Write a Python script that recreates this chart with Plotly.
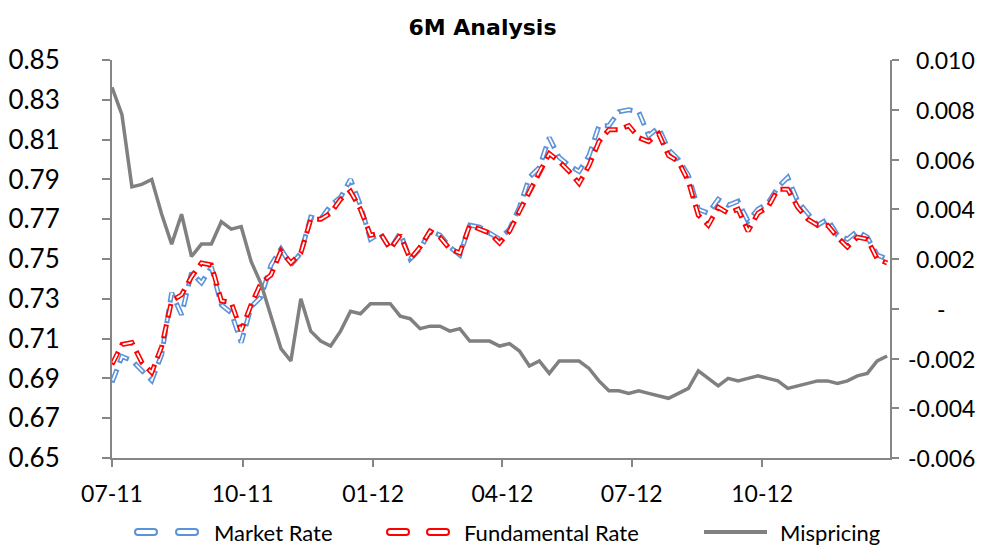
import pandas as pd
import plotly.graph_objects as go

dates = pd.date_range("2011-07-01", periods=79, freq="7D")

market_rate = [
    0.688, 0.701, 0.699, 0.694, 0.689, 0.702, 0.733, 0.722, 0.743, 0.738,
    0.746, 0.727, 0.723, 0.708, 0.726, 0.731, 0.747, 0.755, 0.747, 0.753,
    0.771, 0.770, 0.777, 0.781, 0.790, 0.777, 0.760, 0.763, 0.755, 0.763,
    0.750, 0.755, 0.764, 0.762, 0.756, 0.752, 0.767, 0.766, 0.763, 0.760,
    0.765, 0.776, 0.791, 0.796, 0.811, 0.801, 0.797, 0.794, 0.802, 0.817,
    0.817, 0.824, 0.825, 0.824, 0.812, 0.816, 0.805, 0.800, 0.792, 0.775,
    0.773, 0.780, 0.777, 0.779, 0.769, 0.775, 0.778, 0.786, 0.791, 0.779,
    0.773, 0.767, 0.770, 0.762, 0.760, 0.764, 0.761, 0.752, 0.750,
]

fundamental_rate = [
    0.697, 0.707, 0.708, 0.698, 0.693, 0.706, 0.729, 0.732, 0.741, 0.748,
    0.747, 0.729, 0.728, 0.714, 0.727, 0.738, 0.742, 0.754, 0.748, 0.753,
    0.770, 0.770, 0.773, 0.780, 0.784, 0.775, 0.762, 0.763, 0.755, 0.762,
    0.750, 0.756, 0.764, 0.761, 0.755, 0.753, 0.767, 0.765, 0.763, 0.758,
    0.764, 0.774, 0.784, 0.794, 0.803, 0.799, 0.794, 0.788, 0.797, 0.809,
    0.815, 0.815, 0.817, 0.811, 0.809, 0.813, 0.802, 0.799, 0.789, 0.772,
    0.767, 0.776, 0.773, 0.775, 0.764, 0.773, 0.776, 0.785, 0.785, 0.776,
    0.770, 0.767, 0.767, 0.761, 0.756, 0.761, 0.760, 0.750, 0.748,
]

mispricing = [
    0.0089, 0.0078, 0.0049, 0.0050, 0.0052, 0.0038, 0.0026, 0.0038, 0.0021, 0.0026,
    0.0026, 0.0035, 0.0032, 0.0033, 0.0019, 0.0010, -0.0003, -0.0016, -0.0021, 0.0004,
    -0.0009, -0.0013, -0.0015, -0.0009, -0.0001, -0.0002, 0.0002, 0.0002, 0.0002, -0.0003,
    -0.0004, -0.0008, -0.0007, -0.0007, -0.0009, -0.0008, -0.0013, -0.0013, -0.0013, -0.0015,
    -0.0014, -0.0017, -0.0023, -0.0021, -0.0026, -0.0021, -0.0021, -0.0021, -0.0024, -0.0029,
    -0.0033, -0.0033, -0.0034, -0.0033, -0.0034, -0.0035, -0.0036, -0.0034, -0.0032, -0.0025,
    -0.0028, -0.0031, -0.0028, -0.0029, -0.0028, -0.0027, -0.0028, -0.0029, -0.0032, -0.0031,
    -0.0030, -0.0029, -0.0029, -0.0030, -0.0029, -0.0027, -0.0026, -0.0021, -0.0019,
]

x_ticks = ["2011-07-01", "2011-10-01", "2012-01-01", "2012-04-01", "2012-07-01", "2012-10-01"]
right_ticks = [0.010, 0.008, 0.006, 0.004, 0.002, 0.0, -0.002, -0.004, -0.006]
right_labels = ["0.010", "0.008", "0.006", "0.004", "0.002", "-" + "\u00a0" * 5,
                "-0.002", "-0.004", "-0.006"]

series_names = ["Market Rate", "Fundamental Rate", "Mispricing"]
BLUE, RED, GREY = "#5b93d8", "#ff0000", "#808080"

FONT = "Lato"
AXIS_GREY = "#868686"
OUTER_DASH = "14px,7px"
INNER_DASH = "0px,2px,10px,9px"  # sits inside each outer dash -> hollow look

# plot area in px (for placing the hand-made legend / right labels)
L, R, T, B = 112, 890, 60, 458


def px_x(px):
    return (px - L) / (R - L)


def px_y(py):
    return (B - py) / (B - T)


fig = go.Figure()


def hollow_dash(y, colour, name):
    # Excel-style double line: coloured dash with a white core
    fig.add_trace(go.Scatter(x=dates, y=y, name=name, mode="lines",
                             line=dict(color=colour, width=5, dash=OUTER_DASH)))
    fig.add_trace(go.Scatter(x=dates, y=y, showlegend=False, mode="lines",
                             hoverinfo="skip",
                             line=dict(color="white", width=1.8, dash=INNER_DASH)))


hollow_dash(market_rate, BLUE, series_names[0])
hollow_dash(fundamental_rate, RED, series_names[1])

fig.add_trace(go.Scatter(x=dates, y=mispricing, name=series_names[2], mode="lines",
                         yaxis="y2", line=dict(color=GREY, width=3.5)))

# right axis labels, right aligned like Excel
annotations = []
for v, txt in zip(right_ticks, right_labels):
    annotations.append(dict(x=px_x(977), xref="paper", y=v, yref="y2",
                            text=txt, showarrow=False, xanchor="right",
                            yanchor="middle", font=dict(size=23, family=FONT)))

# legend drawn by hand (hollow capsules for the dashed series)
capsule = "M -8,3 L 8,3 Q 11,3 11,0 Q 11,-3 8,-3 L -8,-3 Q -11,-3 -11,0 Q -11,3 -8,3 Z"
shapes = []
legend_y = px_y(532)
text_y = px_y(532)
for colour, dash_px, text_px, name in [(BLUE, (146, 187), 212, series_names[0]),
                                       (RED, (398, 438), 462, series_names[1])]:
    for cx in dash_px:
        shapes.append(dict(type="path", path=capsule, xref="paper", yref="paper",
                           xsizemode="pixel", ysizemode="pixel",
                           xanchor=px_x(cx), yanchor=legend_y,
                           line=dict(color=colour, width=2), fillcolor="white"))
    annotations.append(dict(x=px_x(text_px), xref="paper", y=text_y, yref="paper",
                            text=name, showarrow=False, xanchor="left", yanchor="middle",
                            font=dict(size=22, family=FONT)))
shapes.append(dict(type="line", xref="paper", yref="paper",
                   x0=px_x(704), x1=px_x(767), y0=legend_y, y1=legend_y,
                   line=dict(color=GREY, width=4)))
annotations.append(dict(x=px_x(778), xref="paper", y=text_y, yref="paper",
                        text=series_names[2], showarrow=False, xanchor="left",
                        yanchor="middle", font=dict(size=22, family=FONT)))

fig.update_layout(
    width=984, height=547,
    margin=dict(l=L, r=984 - R, t=T, b=547 - B),
    paper_bgcolor="white", plot_bgcolor="white",
    font=dict(family=FONT, color="black", size=23),
    title=dict(text="<b>6M Analysis</b>", x=482.5 / 984, xanchor="center",
               xref="container", yref="container", y=1 - 27 / 547, yanchor="middle",
               font=dict(size=22, family="DejaVu Sans")),
    showlegend=False,
    annotations=annotations,
    shapes=shapes,
    xaxis=dict(
        type="date", range=["2011-07-01", "2012-12-30"],
        tickvals=x_ticks, tickformat="%m-%y",
        showline=True, linecolor=AXIS_GREY, linewidth=2,
        ticks="outside", ticklen=7, tickwidth=2, tickcolor=AXIS_GREY,
        showgrid=False, zeroline=False, ticklabelstandoff=7,
        tickfont=dict(size=23), automargin=False,
    ),
    yaxis=dict(
        range=[0.65, 0.85], tick0=0.65, dtick=0.02, tickformat=".2f",
        showline=True, linecolor=AXIS_GREY, linewidth=2,
        ticks="outside", ticklen=8, tickwidth=2, tickcolor=AXIS_GREY,
        showgrid=False, zeroline=False, ticklabelstandoff=37,
        tickfont=dict(size=26), automargin=False,
    ),
    yaxis2=dict(
        overlaying="y", side="right", range=[-0.006, 0.010],
        tickvals=right_ticks, showticklabels=False,
        showline=True, linecolor=AXIS_GREY, linewidth=2,
        ticks="outside", ticklen=7, tickwidth=2, tickcolor=AXIS_GREY,
        showgrid=False, zeroline=False, automargin=False,
    ),
)

# the page's default 8px body margin would push the chart past the window edge
fig.write_html("out.html", config={"displayModeBar": False},
               post_script="document.body.style.margin = '0';")
